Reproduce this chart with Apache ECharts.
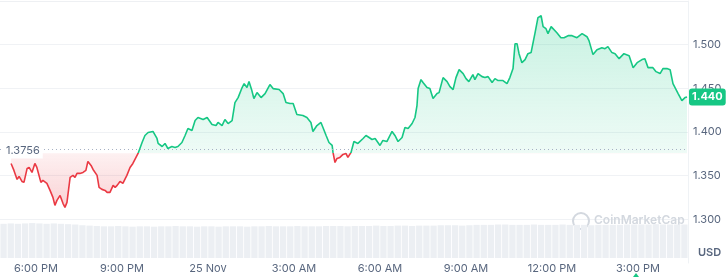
<!DOCTYPE html>
<html><head><meta charset="utf-8">
<script src="https://cdn.jsdelivr.net/npm/echarts@6/dist/echarts.min.js"></script>
<style>html,body{margin:0;padding:0;background:#fff}#c{width:727px;height:277px}</style>
</head><body><div id="c"></div>
<script>
// hours since 24 Nov 00:00
const times = [17.13,17.23,17.34,17.41,17.51,17.58,17.69,17.76,17.86,17.96,18.03,18.17,18.24,18.38,18.49,18.59,18.66,18.73,18.84,18.94,19.01,19.08,19.19,19.29,19.36,19.43,19.53,19.64,19.74,19.81,19.92,19.99,20.13,20.20,20.30,20.41,20.48,20.58,20.69,20.76,20.83,20.93,
21.03,21.17,21.28,21.38,21.56,21.70,21.80,21.91,22.08,22.22,22.26,22.40,22.50,22.60,22.74,22.85,22.95,23.09,23.20,23.30,23.44,23.55,23.65,23.83,23.97,24.14,24.28,24.35,24.49,24.59,24.70,
24.84,24.94,25.05,25.19,25.26,25.36,25.43,25.53,25.60,25.71,25.85,25.99,26.16,26.27,26.48,26.62,26.72,26.86,26.97,27.10,27.31,27.45,27.59,27.66,27.80,27.94,28.01,28.12,28.22,28.33,28.36,28.43,28.50,28.60,
28.71,28.81,28.88,28.99,29.09,29.23,29.41,29.51,29.62,29.72,29.83,30.00,30.10,30.24,30.42,30.52,30.63,30.77,30.87,30.98,31.12,31.22,31.29,31.33,31.43,31.50,31.64,31.74,31.85,31.99,32.06,32.20,32.34,32.44,
32.55,32.65,32.76,32.90,33.00,33.10,33.24,33.31,33.42,33.56,33.66,33.77,33.91,34.01,34.12,34.29,34.43,34.53,34.64,34.71,34.78,34.85,34.95,35.06,35.16,35.27,35.41,35.51,35.62,35.69,35.79,35.86,35.97,36.03,36.17,36.31,36.42,36.56,
36.70,36.87,37.05,37.22,37.29,37.43,37.57,37.74,37.85,37.95,38.09,38.20,38.34,38.51,38.69,38.83,38.97,39.14,39.24,39.35,39.52,39.63,39.77,39.87,40.01,40.12,40.22,40.40,40.53,40.64,40.71];

const prices = [1.3640,1.3560,1.3457,1.3491,1.3434,1.3423,1.3583,1.3594,1.3537,1.3640,1.3594,1.3423,1.3446,1.3411,1.3331,1.3251,1.3160,1.3217,1.3274,1.3183,1.3137,1.3194,1.3480,1.3503,1.3480,1.3526,1.3526,1.3537,1.3560,1.3663,1.3617,1.3571,1.3503,1.3366,1.3343,1.3331,1.3309,1.3309,1.3389,1.3366,1.3389,1.3434,
1.3411,1.3503,1.3594,1.3640,1.3754,1.3880,1.3960,1.3994,1.4006,1.3926,1.3869,1.3834,1.3869,1.3811,1.3834,1.3823,1.3834,1.3880,1.3960,1.4040,1.4017,1.4131,1.4166,1.4143,1.4166,1.4086,1.4074,1.4109,1.4074,1.4143,1.4097,
1.4131,1.4337,1.4394,1.4509,1.4554,1.4509,1.4577,1.4474,1.4383,1.4451,1.4394,1.4440,1.4543,1.4497,1.4486,1.4440,1.4337,1.4326,1.4326,1.4200,1.4189,1.4166,1.4109,1.4006,1.4074,1.4109,1.4051,1.3960,1.3880,1.3846,1.3766,1.3651,1.3697,1.3709,
1.3743,1.3754,1.3709,1.3766,1.3891,1.3869,1.3926,1.3960,1.3937,1.3914,1.3926,1.3846,1.3903,1.3891,1.4006,1.3960,1.3891,1.3937,1.4051,1.4040,1.4097,1.4166,1.4303,1.4497,1.4600,1.4566,1.4509,1.4497,1.4383,1.4440,1.4451,1.4623,1.4577,1.4520,
1.4486,1.4623,1.4714,1.4669,1.4611,1.4577,1.4657,1.4600,1.4669,1.4634,1.4623,1.4634,1.4566,1.4611,1.4589,1.4589,1.4554,1.4623,1.4726,1.5011,1.5011,1.4897,1.4794,1.4829,1.4897,1.4909,1.5137,1.5309,1.5331,1.5206,1.5183,1.5126,1.5206,1.5217,1.5137,1.5080,1.5080,1.5103,
1.5103,1.5080,1.5126,1.5091,1.5046,1.4886,1.4943,1.4966,1.4954,1.4977,1.4909,1.4897,1.4840,1.4897,1.4874,1.4737,1.4794,1.4829,1.4840,1.4737,1.4737,1.4691,1.4669,1.4726,1.4726,1.4714,1.4554,1.4440,1.4360,1.4394,1.4400];

const volume = [95,96,95,96,97,96,95,96,95,94,93,91,90,89,88,88,89,88,87,88,88,87,88,88,89,88,88,87,88,88,87,88,88,88,87,88,88,89,88,88,88,89,88,88,88,89,89,89,88,89,89,89,90,89,89,90,90,89,90,90,90,91,91,91,90,91,92,92,92,93,93,92,92,92,93,92,92,92,93,92,92,92,91,92,92,92,92,93,93,93,93,94,93,93,93,93];

const baseline = 1.3756;
const lastPrice = 1.440;
const tickHours = [18,21,24,27,30,33,36,39];
const tickLabels = ['6:00 PM','9:00 PM','25 Nov','3:00 AM','6:00 AM','9:00 AM','12:00 PM','3:00 PM'];
const priceTicks = [1.300,1.350,1.400,1.450,1.500];

const GREEN = '#16c784', RED = '#ea3943';
const pts = times.map((t,i)=>[t,prices[i]]);
const pMax = Math.max(...prices, baseline), pMin = Math.min(...prices, baseline);
const off = (pMax - baseline)/(pMax - pMin);

const chart = echarts.init(document.getElementById('c'), null, {renderer:'canvas'});
chart.setOption({
  animation:false,
  textStyle:{fontFamily:'Inter'},
  grid:[
    {left:0, right:39, top:1, height:262},
    {left:0, right:39, top:222, height:36}
  ],
  xAxis:[
    {type:'value', gridIndex:0, min:16.744, max:40.744,
     axisLine:{show:false}, axisTick:{show:false}, splitLine:{show:false},
     axisLabel:{customValues:tickHours, margin:0, color:'#58667e', fontSize:11,
       formatter:v=>{const i=tickHours.indexOf(Math.round(v));return i>=0?tickLabels[i]:'';}}},
    {type:'category', gridIndex:1, data:volume.map((_,i)=>i),
     axisLine:{show:false}, axisTick:{show:false}, axisLabel:{show:false}, splitLine:{show:false}}
  ],
  yAxis:[
    {type:'value', gridIndex:0, position:'right', min:1.25, max:1.55, interval:0.05,
     axisLine:{show:true, lineStyle:{color:'#eff2f5'}}, axisTick:{show:false},
     splitLine:{show:true, lineStyle:{color:['transparent','#f0f2f5','#f0f2f5','#f0f2f5','#f0f2f5','#f0f2f5','#eef0f3']}},
     axisLabel:{margin:5, color:'#58667e', fontSize:11,
       formatter:v=>{const r=Math.round(v*1000)/1000;return priceTicks.some(p=>Math.abs(p-r)<1e-6)?r.toFixed(3):'';}}},
    {type:'value', gridIndex:1, min:0, max:100, show:false}
  ],
  visualMap:{show:false, type:'piecewise', dimension:1, seriesIndex:0,
    pieces:[{gt:0, lt:baseline, color:RED},{gte:baseline, lt:10, color:GREEN}]},
  graphic:[
    {type:'circle', shape:{cx:581, cy:221, r:8}, style:{fill:'none', stroke:'#d3d8df', lineWidth:2}, z:1},
    {type:'text', left:594, top:214, style:{text:'CoinMarketCap', font:'600 12px Inter', fill:'#d3d8df'}, z:1},
    {type:'text', left:698, top:247, style:{text:'USD', font:'600 11px Inter', fill:'#58667e'}},
    {type:'polygon', shape:{points:[[633,277],[636,273],[639,277]]}, style:{fill:GREEN}}
  ],
  series:[
    {type:'line', xAxisIndex:0, yAxisIndex:0, data:pts, showSymbol:false, symbol:'none',
     lineStyle:{width:1.6},
     areaStyle:{origin:baseline, color:new echarts.graphic.LinearGradient(0,0,0,1,[
       {offset:0, color:'rgba(22,199,132,0.34)'},
       {offset:Math.max(0,off-0.001), color:'rgba(22,199,132,0.10)'},
       {offset:off, color:'rgba(234,57,67,0.10)'},
       {offset:1, color:'rgba(234,57,67,0.32)'}])},
     z:3,
     markLine:{silent:true, symbol:'none', animation:false,
       data:[
         {yAxis:baseline, lineStyle:{type:[1,3], color:'#a6b0c3', width:1},
          label:{formatter:String(baseline), position:'insideStartTop', distance:0, color:'#58667e', fontSize:11,
            backgroundColor:'#fff', padding:[2,3,2,3], offset:[3,9]}},
         {yAxis:lastPrice, lineStyle:{width:0, color:'transparent'},
          label:{show:true, formatter:lastPrice.toFixed(3), position:'end', distance:1, color:'#fff', fontSize:11, fontWeight:'bold',
            backgroundColor:GREEN, padding:[3,3,3,3], borderRadius:3}}
       ]}},
    {type:'bar', xAxisIndex:1, yAxisIndex:1, data:volume, barCategoryGap:'12%',
     itemStyle:{color:'#eceff3'}, z:1, silent:true}
  ]
});
</script></body></html>
